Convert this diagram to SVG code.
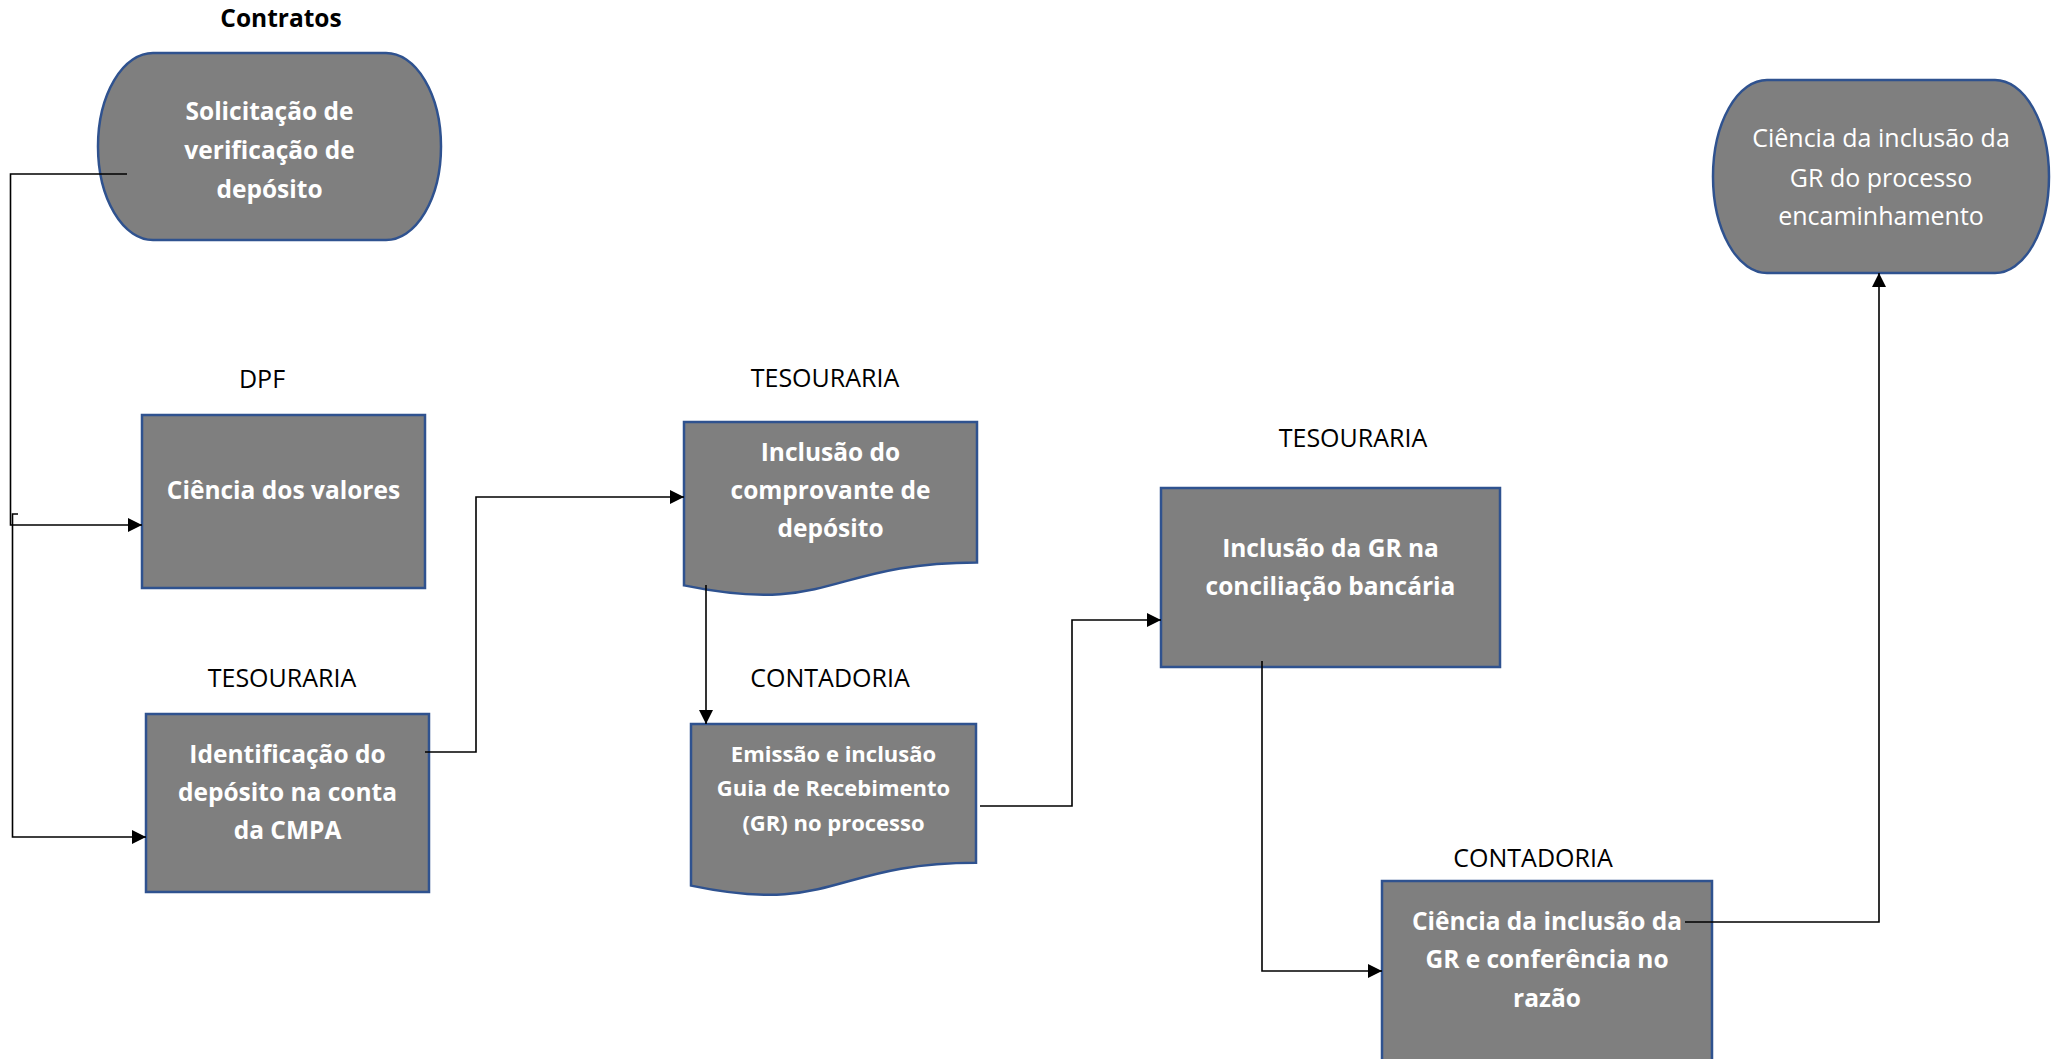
<svg xmlns="http://www.w3.org/2000/svg" width="2060" height="1059" viewBox="0 0 2060 1059">
<style>
.shape{fill:#7f7f7f;stroke:#2f528f;stroke-width:2.5}
.t{font-family:"Open Sans","Liberation Sans",sans-serif;text-anchor:middle}
.w{fill:#ffffff;font-weight:700;font-size:24.5px}
.wr{fill:#ffffff;font-weight:400;font-size:25px}
.ws{fill:#ffffff;font-weight:700;font-size:22px}
.lbl{fill:#000000;font-weight:400;font-size:25px}
.lblb{fill:#000000;font-weight:700;font-size:24.5px}
.conn{fill:none;stroke:#000000;stroke-width:1.6}
</style>
<defs>
<marker id="arr" markerUnits="userSpaceOnUse" markerWidth="15" markerHeight="15" refX="14" refY="7" orient="auto">
<path d="M0,0 L14,7 L0,14 Z" fill="#000000"/>
</marker>
</defs>
<rect x="0" y="0" width="2060" height="1059" fill="#ffffff"/>

<g id="n-solicitacao">
<text class="t lblb" x="281" y="27">Contratos</text>
<path class="shape" d="M153,53 H386 A55,93.5 0 0 1 386,240 H153 A55,93.5 0 0 1 153,53 Z"/>
<text class="t w" x="269.5" y="120">Solicitação de</text>
<text class="t w" x="269.5" y="159">verificação de</text>
<text class="t w" x="269.5" y="198">depósito</text>
</g>

<g id="n-ciencia-valores">
<text class="t lbl" x="262" y="388">DPF</text>
<rect class="shape" x="142" y="415" width="283" height="173"/>
<text class="t w" x="283.5" y="499">Ciência dos valores</text>
</g>

<g id="n-identificacao">
<text class="t lbl" x="282" y="687">TESOURARIA</text>
<rect class="shape" x="146" y="714" width="283" height="178"/>
<text class="t w" x="287.5" y="763">Identificação do</text>
<text class="t w" x="287.5" y="801">depósito na conta</text>
<text class="t w" x="287.5" y="839">da CMPA</text>
</g>

<g id="n-inclusao-comprovante">
<text class="t lbl" x="825" y="387">TESOURARIA</text>
<path class="shape" d="M684,422 H977 V562.4 C830.5,562.4 830.5,615.8 684,585.4 Z"/>
<text class="t w" x="830.5" y="461">Inclusão do</text>
<text class="t w" x="830.5" y="499">comprovante de</text>
<text class="t w" x="830.5" y="537">depósito</text>
</g>

<g id="n-emissao-gr">
<text class="t lbl" x="830" y="687">CONTADORIA</text>
<path class="shape" d="M691,724 H976 V862.7 C833.5,862.7 833.5,915.6 691,885.6 Z"/>
<text class="t ws" x="833.5" y="762">Emissão e inclusão</text>
<text class="t ws" x="833.5" y="796">Guia de Recebimento</text>
<text class="t ws" x="833.5" y="831">(GR) no processo</text>
</g>

<g id="n-inclusao-conciliacao">
<text class="t lbl" x="1353" y="447">TESOURARIA</text>
<rect class="shape" x="1161" y="488" width="339" height="179"/>
<text class="t w" x="1330.5" y="557">Inclusão da GR na</text>
<text class="t w" x="1330.5" y="595">conciliação bancária</text>
</g>

<g id="n-ciencia-razao">
<text class="t lbl" x="1533" y="867">CONTADORIA</text>
<rect class="shape" x="1382" y="881" width="330" height="200"/>
<text class="t w" x="1547" y="930">Ciência da inclusão da</text>
<text class="t w" x="1547" y="968">GR e conferência no</text>
<text class="t w" x="1547" y="1007">razão</text>
</g>

<g id="n-ciencia-encaminhamento">
<path class="shape" d="M1767,80 H1995 A54,96.5 0 0 1 1995,273 H1767 A54,96.5 0 0 1 1767,80 Z"/>
<text class="t wr" x="1881" y="147">Ciência da inclusão da</text>
<text class="t wr" x="1881" y="187">GR do processo</text>
<text class="t wr" x="1881" y="225">encaminhamento</text>
</g>

<g id="connectors">
<path class="conn" d="M127,174 H10.5 V525 H142" marker-end="url(#arr)"/>
<path class="conn" d="M18,514 H12.5 V837 H146" marker-end="url(#arr)"/>
<path class="conn" d="M425,752 H476 V497 H684" marker-end="url(#arr)"/>
<path class="conn" d="M706,585 V724" marker-end="url(#arr)"/>
<path class="conn" d="M980,806 H1072 V620 H1161" marker-end="url(#arr)"/>
<path class="conn" d="M1262,661 V971 H1382" marker-end="url(#arr)"/>
<path class="conn" d="M1685,922 H1879 V273" marker-end="url(#arr)"/>
</g>
</svg>
